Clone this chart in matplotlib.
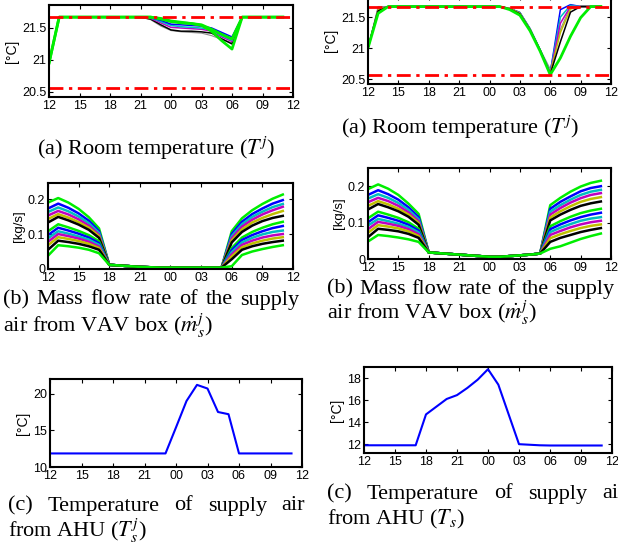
import matplotlib
matplotlib.use("Agg")
import matplotlib.pyplot as plt
from matplotlib.ticker import FuncFormatter
import numpy as np

plt.rcParams['font.family'] = ['Liberation Sans', 'DejaVu Sans']
plt.rcParams['mathtext.fontset'] = 'stix'

# hours after 12:00, hourly samples
hours = np.arange(24)
xticks = [0, 3, 6, 9, 12, 15, 18, 21, 24]
xlabels = ['12', '15', '18', '21', '00', '03', '06', '09', '12']
t_low, t_high = 20.56, 21.67

flow_colors = ['#00ee00', 'b', 'c', 'm', 'y', 'k', '#00ee00', 'b', 'c', 'm', 'y', 'k', '#00ee00']

# ---- left column (T^j, m_s^j, T_s^j) ----
room_left = {
    'gray': [20.95] + [21.67] * 9 + [21.63, 21.53, 21.46, 21.44, 21.43, 21.42, 21.38, 21.32, 21.27] + [21.67] * 5,
    'k': [20.95] + [21.67] * 9 + [21.64, 21.55, 21.47, 21.45, 21.45, 21.44, 21.42, 21.33, 21.25] + [21.67] * 5,
    'm': [20.95] + [21.67] * 9 + [21.65, 21.58, 21.51, 21.50, 21.49, 21.48, 21.45, 21.36, 21.29] + [21.67] * 5,
    'c': [20.95] + [21.67] * 9 + [21.66, 21.60, 21.54, 21.52, 21.51, 21.50, 21.47, 21.38, 21.31] + [21.67] * 5,
    'b': [20.95] + [21.67] * 9 + [21.66, 21.62, 21.56, 21.55, 21.54, 21.53, 21.50, 21.43, 21.36] + [21.67] * 5,
    'g2': [20.95] + [21.67] * 9 + [21.67, 21.64, 21.60, 21.58, 21.57, 21.55, 21.48, 21.40, 21.33] + [21.67] * 5,
    'g': [20.95] + [21.67] * 9 + [21.67, 21.65, 21.61, 21.59, 21.57, 21.54, 21.45, 21.30, 21.17] + [21.67] * 5,
}

flow_day_left = [
    [0.190, 0.173, 0.163, 0.153, 0.143, 0.133, 0.108, 0.097, 0.088, 0.078, 0.068, 0.055, 0.038],
    [0.203, 0.187, 0.176, 0.166, 0.157, 0.149, 0.128, 0.118, 0.108, 0.100, 0.091, 0.081, 0.068],
    [0.190, 0.175, 0.165, 0.156, 0.147, 0.139, 0.119, 0.110, 0.101, 0.094, 0.086, 0.077, 0.065],
    [0.172, 0.159, 0.150, 0.142, 0.134, 0.127, 0.109, 0.101, 0.093, 0.087, 0.080, 0.072, 0.061],
    [0.148, 0.138, 0.131, 0.124, 0.118, 0.112, 0.097, 0.090, 0.084, 0.078, 0.072, 0.065, 0.055],
    [0.116, 0.108, 0.103, 0.098, 0.094, 0.089, 0.079, 0.074, 0.069, 0.064, 0.060, 0.055, 0.045],
]
flow_night_left = [0.012, 0.010, 0.008, 0.006, 0.005, 0.004, 0.004, 0.004, 0.004, 0.004, 0.004, 0.004]
flow_morning_left = [
    [0.108, 0.100, 0.094, 0.088, 0.082, 0.076, 0.060, 0.054, 0.048, 0.042, 0.036, 0.028, 0.008],
    [0.145, 0.135, 0.128, 0.121, 0.113, 0.106, 0.090, 0.083, 0.076, 0.069, 0.062, 0.055, 0.040],
    [0.168, 0.157, 0.149, 0.141, 0.133, 0.124, 0.106, 0.097, 0.089, 0.081, 0.073, 0.065, 0.050],
    [0.186, 0.173, 0.164, 0.156, 0.146, 0.137, 0.118, 0.108, 0.099, 0.090, 0.081, 0.072, 0.057],
    [0.201, 0.187, 0.177, 0.168, 0.157, 0.146, 0.128, 0.117, 0.106, 0.096, 0.087, 0.077, 0.063],
    [0.213, 0.197, 0.186, 0.178, 0.166, 0.152, 0.135, 0.123, 0.110, 0.100, 0.091, 0.081, 0.068],
]

supply_left = [11.85] * 12 + [15.4, 19.0, 21.2, 20.7, 17.5, 17.2] + [11.85] * 6

# ---- right column (T^j, m_s^j, T_s) ----
room_right = {
    'gray': [21.0] + [21.67] * 13 + [21.64, 21.58, 21.32, 20.98, 20.66, 21.30, 21.67, 21.67, 21.67, 21.67],
    'b': [21.0, 21.62] + [21.67] * 12 + [21.64, 21.57, 21.31, 20.97, 20.60, 21.62, 21.70, 21.67, 21.67, 21.67],
    'c': [21.0, 21.62] + [21.67] * 12 + [21.64, 21.57, 21.31, 20.97, 20.60, 21.50, 21.69, 21.67, 21.67, 21.67],
    'm': [21.0, 21.62] + [21.67] * 12 + [21.64, 21.56, 21.30, 20.96, 20.59, 21.40, 21.67, 21.67, 21.67, 21.67],
    'y': [21.0, 21.62] + [21.67] * 12 + [21.64, 21.56, 21.30, 20.96, 20.59, 21.25, 21.63, 21.67, 21.67, 21.67],
    'k': [21.0, 21.60] + [21.67] * 12 + [21.63, 21.55, 21.29, 20.96, 20.58, 21.10, 21.58, 21.67, 21.67, 21.67],
    'g': [21.0, 21.56] + [21.67] * 12 + [21.62, 21.53, 21.28, 20.95, 20.57, 20.84, 21.19, 21.49, 21.67, 21.67],
}

flow_day_right = [
    [0.192, 0.176, 0.166, 0.156, 0.146, 0.136, 0.112, 0.101, 0.092, 0.082, 0.072, 0.060, 0.048],
    [0.205, 0.189, 0.178, 0.168, 0.159, 0.151, 0.130, 0.120, 0.110, 0.102, 0.093, 0.083, 0.066],
    [0.193, 0.178, 0.168, 0.159, 0.150, 0.142, 0.122, 0.113, 0.104, 0.097, 0.089, 0.080, 0.063],
    [0.176, 0.163, 0.154, 0.146, 0.138, 0.131, 0.113, 0.105, 0.097, 0.091, 0.084, 0.076, 0.059],
    [0.152, 0.142, 0.135, 0.128, 0.122, 0.116, 0.101, 0.094, 0.088, 0.082, 0.076, 0.069, 0.054],
    [0.124, 0.115, 0.109, 0.104, 0.099, 0.094, 0.083, 0.078, 0.073, 0.068, 0.063, 0.058, 0.047],
]
flow_night_right = [0.018, 0.016, 0.014, 0.012, 0.010, 0.008, 0.006, 0.006, 0.008, 0.010, 0.012, 0.015]
flow_morning_right = [
    [0.148, 0.138, 0.130, 0.122, 0.114, 0.106, 0.090, 0.082, 0.074, 0.066, 0.057, 0.047, 0.028],
    [0.168, 0.157, 0.148, 0.140, 0.131, 0.122, 0.104, 0.095, 0.086, 0.077, 0.068, 0.058, 0.035],
    [0.185, 0.172, 0.163, 0.155, 0.145, 0.135, 0.116, 0.106, 0.096, 0.087, 0.077, 0.066, 0.045],
    [0.199, 0.186, 0.176, 0.167, 0.157, 0.146, 0.126, 0.115, 0.105, 0.095, 0.085, 0.074, 0.055],
    [0.209, 0.195, 0.185, 0.176, 0.165, 0.153, 0.133, 0.122, 0.111, 0.101, 0.091, 0.080, 0.063],
    [0.215, 0.200, 0.190, 0.181, 0.170, 0.158, 0.138, 0.127, 0.115, 0.105, 0.095, 0.085, 0.070],
]

supply_right = [11.9] * 6 + [14.7, 15.4, 16.1, 16.45, 17.1, 17.85, 18.8, 17.4, 14.7, 12.0,
                             11.95, 11.9, 11.88, 11.88, 11.88, 11.88, 11.88, 11.88]

W, H = 618, 550
fig = plt.figure(figsize=(W / 100, H / 100), dpi=100)


def px_axes(x0, y0, x1, y1):
    return fig.add_axes([x0 / W, 1 - y1 / H, (x1 - x0) / W, (y1 - y0) / H])


def style(ax, ylim, yticks, ylabel, ylsize=8):
    ax.set_xlim(0, 24)
    ax.set_ylim(*ylim)
    ax.set_xticks(xticks)
    ax.set_xticklabels(xlabels)
    ax.set_yticks(yticks)
    ax.yaxis.set_major_formatter(FuncFormatter(lambda v, p: '%g' % v))
    ax.tick_params(direction='in', length=3, width=0.8, labelsize=9,
                   top=True, right=True, pad=2, colors='k')
    for s in ax.spines.values():
        s.set_linewidth(1.5)
    ax.set_ylabel(ylabel, fontsize=ylsize, labelpad=2)


def room_plot(ax, data):
    for name, vals in data.items():
        if name == 'gray':
            ax.plot(hours, vals, color='0.55', lw=0.8)
        elif name.startswith('g'):
            ax.plot(hours, vals, color='#00ee00', lw=2)
        else:
            ax.plot(hours, vals, color=name, lw=1.1)
    for lvl in (t_low, t_high):
        ax.axhline(lvl, color='red', lw=2, ls=(0, (5, 2, 1.2, 2)))


def flow_plot(ax, day, night, morning):
    table = np.vstack([np.array(day),
                       np.tile(np.array(night)[:, None], (1, len(flow_colors))),
                       np.array(morning)])
    for i, c in enumerate(flow_colors):
        ax.plot(hours, table[:, i], color=c, lw=1.8)


# left column
ax = px_axes(49, 5, 293, 97)
room_plot(ax, room_left)
style(ax, (20.42, 21.86), [20.5, 21, 21.5], '[°C]', 10)

ax = px_axes(48, 183, 293, 269)
flow_plot(ax, flow_day_left, flow_night_left, flow_morning_left)
style(ax, (0, 0.246), [0, 0.1, 0.2], '[kg/s]', 9.5)

ax = px_axes(50, 379, 302, 467)
ax.plot(hours, supply_left, color='b', lw=1.5)
style(ax, (10, 22), [10, 15, 20], '[°C]', 10)

# right column
ax = px_axes(368, -4, 611, 84)
room_plot(ax, room_right)
style(ax, (20.42, 21.84), [20.5, 21, 21.5], '[°C]', 10)

ax = px_axes(368, 168, 611, 259)
flow_plot(ax, flow_day_right, flow_night_right, flow_morning_right)
style(ax, (0, 0.25), [0, 0.1, 0.2], '[kg/s]', 9.5)

ax = px_axes(364, 367, 612, 453)
ax.plot(hours, supply_right, color='b', lw=1.5)
style(ax, (11.2, 19.0), [12, 14, 16, 18], '[°C]', 10)

# captions
cap = dict(family=['Liberation Serif', 'DejaVu Serif'], fontsize=16, va='center')
renderer = fig.canvas.get_renderer()


def justified(words, x0, x1, y):
    texts = [fig.text(0, 1 - y / H, w, ha='left', **cap) for w in words]
    widths = [t.get_window_extent(renderer).width for t in texts]
    gap = max((x1 - x0 - sum(widths)) / (len(words) - 1), 4.0)
    x = x0
    for t, w in zip(texts, widths):
        t.set_x(x / W)
        x += w + gap


def line(s, x, y, ha='left'):
    fig.text(x / W, 1 - y / H, s, ha=ha, **cap)


line(r'(a) Room temperature ($T^j$)', 156, 148, 'center')
justified(['(b)', 'Mass', 'flow', 'rate', 'of', 'the', 'supply'], 3, 299, 300)
line(r'air from VAV box ($\dot{m}_s^j$)', 3, 326)
justified(['(c)', 'Temperature', 'of', 'supply', 'air'], 8, 305, 506)
line(r'from AHU ($T_s^j$)', 8, 531)

line(r'(a) Room temperature ($T^j$)', 460, 127, 'center')
justified(['(b)', 'Mass', 'flow', 'rate', 'of', 'the', 'supply'], 327, 614, 289)
line(r'air from VAV box ($\dot{m}_s^j$)', 327, 313)
justified(['(c)', 'Temperature', 'of', 'supply', 'air'], 327, 626, 494)
line(r'from AHU ($T_s$)', 327, 519)

fig.savefig('out.png', dpi=100)
